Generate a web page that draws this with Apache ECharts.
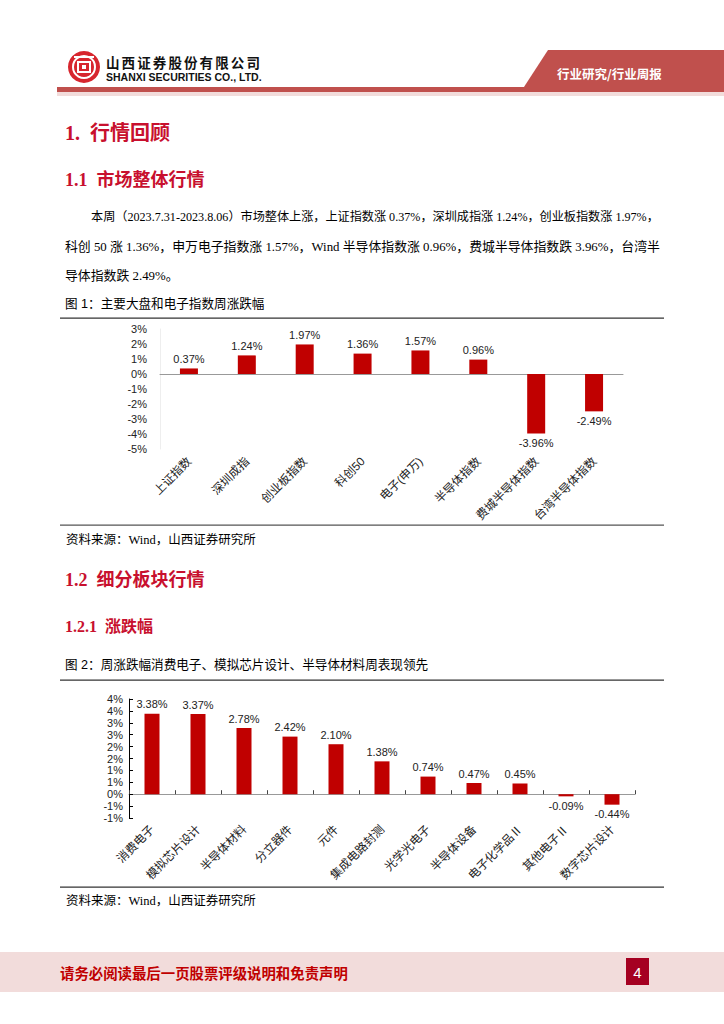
<!DOCTYPE html>
<html><head><meta charset="utf-8">
<script src="https://cdn.jsdelivr.net/npm/echarts@6/dist/echarts.min.js"></script>
<style>html,body{margin:0;padding:0;background:#fff;}#c{width:724px;height:1024px;}</style>
</head><body><div id="c"></div>
<script>
// ---- data ----
const categories1 = ['上证指数','深圳成指','创业板指数','科创50','电子(申万)','半导体指数','费城半导体指数','台湾半导体指数'];
const values1 = [0.37, 1.24, 1.97, 1.36, 1.57, 0.96, -3.96, -2.49];
const yTicks1 = ['-5%','-4%','-3%','-2%','-1%','0%','1%','2%','3%'];

const categories2 = ['消费电子','模拟芯片设计','半导体材料','分立器件','元件','集成电路封测','光学光电子','半导体设备','电子化学品Ⅱ','其他电子Ⅱ','数字芯片设计'];
const values2 = [3.38, 3.37, 2.78, 2.42, 2.10, 1.38, 0.74, 0.47, 0.45, -0.09, -0.44];
const yTicks2 = ['-1%','-1%','0%','1%','1%','2%','2%','3%','3%','4%','4%'];

const bodyLines = [
  '本周（2023.7.31-2023.8.06）市场整体上涨，上证指数涨 0.37%，深圳成指涨 1.24%，创业板指数涨 1.97%，',
  '科创 50 涨 1.36%，申万电子指数涨 1.57%，Wind 半导体指数涨 0.96%，费城半导体指数跌 3.96%，台湾半',
  '导体指数跌 2.49%。'
];
const companyName = '山西证券股份有限公司';

const RED = '#c00000';
const SERIF = '"Liberation Serif","Noto Sans CJK SC",serif';
const SANS = 'Arial,"Liberation Sans","Noto Sans CJK SC",sans-serif';

// text fitting (layout helper only)
const mctx = document.createElement('canvas').getContext('2d');
function fitSize(text, family, maxSize, target){
  mctx.font = maxSize + 'px ' + family;
  const w = mctx.measureText(text).width;
  return w > 0 ? Math.min(maxSize, maxSize * target / w) : maxSize;
}

function barData(vals){
  return vals.map(v => ({value: v, label: {position: v >= 0 ? 'top' : 'bottom'}}));
}

function txt(x, y, text, opt){
  return {type:'text', x:x, y:y, silent:true, style:Object.assign({text:text, fill:'#000', fontSize:14, fontFamily:SERIF, verticalAlign:'middle', align:'left'}, opt||{})};
}

const fs1 = fitSize(bodyLines[0], SERIF, 13.5, 660 - 91);
const fs2 = fitSize(bodyLines[1], SERIF, 13.5, 660 - 65);

const graphics = [
  // header logo
  {type:'circle', shape:{cx:84, cy:67, r:16}, style:{fill:'#d7262e'}},
  {type:'circle', shape:{cx:84, cy:67, r:11}, style:{fill:'none', stroke:'#fff', lineWidth:2}},
  {type:'rect', shape:{x:78, y:62, width:12, height:10}, style:{fill:'#d7262e', stroke:'#fff', lineWidth:2}},
  {type:'rect', shape:{x:82, y:65, width:4, height:4}, style:{fill:'#fff'}},
  {type:'rect', shape:{x:74, y:56, width:20, height:2}, style:{fill:'#fff'}},
  txt(106, 77, 'SHANXI SECURITIES CO., LTD.', {fontFamily:'"Liberation Sans",Arial,sans-serif', fontWeight:'bold', fontSize:10.5, fill:'#111'}),
  // header bars
  {type:'polygon', shape:{points:[[548,50],[724,50],[724,90],[522,90]]}, style:{fill:'#c0504d'}},
  {type:'rect', shape:{x:57, y:87, width:667, height:5}, style:{fill:'#c0504d'}},
  {type:'rect', shape:{x:57, y:92, width:667, height:4}, style:{fill:'#f2dcdb'}},
  txt(557, 73, '行业研究/行业周报', {fontFamily:'"Noto Sans CJK SC",sans-serif', fontWeight:'bold', fontSize:12.5, fill:'#fff'}),
  // headings
  txt(65, 133, '1.  行情回顾', {fontWeight:'bold', fontSize:20, fill:'#c8102e'}),
  txt(65, 180, '1.1  市场整体行情', {fontWeight:'bold', fontSize:18, fill:'#c8102e'}),
  txt(91, 217, bodyLines[0], {fontSize:fs1}),
  txt(65, 247, bodyLines[1], {fontSize:fs2}),
  txt(65, 276, bodyLines[2], {fontSize:fs2}),
  txt(65, 304, '图 1：主要大盘和电子指数周涨跌幅', {fontFamily:SANS, fontSize:12.6}),
  {type:'rect', shape:{x:60, y:317.5, width:604, height:1.2}, style:{fill:'#333'}},
  {type:'rect', shape:{x:60, y:524.5, width:604, height:1.2}, style:{fill:'#555'}},
  txt(66, 540, '资料来源：Wind，山西证券研究所', {fontSize:12.5}),
  txt(65, 580, '1.2  细分板块行情', {fontWeight:'bold', fontSize:18, fill:'#c8102e'}),
  txt(65, 626, '1.2.1  涨跌幅', {fontWeight:'bold', fontSize:16, fill:'#c8102e'}),
  txt(65, 665, '图 2：周涨跌幅消费电子、模拟芯片设计、半导体材料周表现领先', {fontFamily:SANS, fontSize:12.6}),
  {type:'rect', shape:{x:60, y:679.5, width:604, height:1.2}, style:{fill:'#333'}},
  {type:'rect', shape:{x:60, y:886.5, width:604, height:1.2}, style:{fill:'#333'}},
  txt(66, 901, '资料来源：Wind，山西证券研究所', {fontSize:12.5}),
  // footer
  {type:'rect', shape:{x:0, y:952, width:724, height:40}, style:{fill:'#f2dcdb'}},
  txt(60, 972, '请务必阅读最后一页股票评级说明和免责声明', {fontFamily:'"Noto Sans CJK SC",sans-serif', fontWeight:'bold', fontSize:14.4, fill:'#c00000'}),
  {type:'rect', shape:{x:626, y:958, width:23, height:27}, style:{fill:'#a50021'}},
  txt(637.5, 972, '4', {fontFamily:'"Liberation Sans",Arial,sans-serif', fontSize:15, fill:'#fff', align:'center'})
].concat(
  companyName.split('').map((ch, i) => txt(106 + i * 15.6, 62, ch, {fontFamily:'"Noto Sans CJK SC",sans-serif', fontWeight:'bold', fontSize:13.5, fill:'#111'}))
);

const chart = echarts.init(document.getElementById('c'), null, {renderer:'svg', width:724, height:1024});
chart.setOption({
  backgroundColor:'#fff',
  animation:false,
  graphic: graphics,
  grid:[
    {left:160, width:463, top:329, height:120},
    {left:129, width:506, top:699, height:119}
  ],
  xAxis:[
    {type:'category', gridIndex:0, data:categories1,
      axisLine:{lineStyle:{color:'#999', width:1}}, axisTick:{show:false},
      axisLabel:{rotate:45, interval:0, fontSize:11.8, color:'#222', fontFamily:SANS, margin:10}},
    {type:'category', gridIndex:1, data:categories2,
      axisLine:{lineStyle:{color:'#999', width:1}}, axisTick:{show:true, inside:true, length:4, lineStyle:{color:'#444'}},
      axisLabel:{rotate:45, interval:0, fontSize:11.8, color:'#222', fontFamily:SANS, margin:9}}
  ],
  yAxis:[
    {type:'value', gridIndex:0, min:-5, max:3, interval:1,
      axisLine:{show:true, lineStyle:{color:'#eee'}}, axisTick:{show:false}, splitLine:{show:false},
      axisLabel:{fontSize:11, color:'#222', fontFamily:SANS, margin:13,
        formatter:(v)=>yTicks1[Math.round(v+5)]}},
    {type:'value', gridIndex:1, min:-1, max:4, interval:0.5,
      axisLine:{show:true, lineStyle:{color:'#000'}}, axisTick:{show:true, inside:true, length:4, lineStyle:{color:'#000'}}, splitLine:{show:false},
      axisLabel:{fontSize:11, color:'#222', fontFamily:SANS, margin:6,
        formatter:(v)=>yTicks2[Math.round((v+1)/0.5)]}}
  ],
  series:[
    {type:'bar', xAxisIndex:0, yAxisIndex:0, data:barData(values1), barWidth:18,
      itemStyle:{color:RED},
      label:{show:true, distance:4, fontSize:11, color:'#222', fontFamily:SANS, formatter:(p)=>p.value.toFixed(2)+'%'}},
    {type:'bar', xAxisIndex:1, yAxisIndex:1, data:barData(values2), barWidth:15,
      itemStyle:{color:RED},
      label:{show:true, distance:4, fontSize:11, color:'#222', fontFamily:SANS, formatter:(p)=>p.value.toFixed(2)+'%'}}
  ]
});
</script></body></html>
